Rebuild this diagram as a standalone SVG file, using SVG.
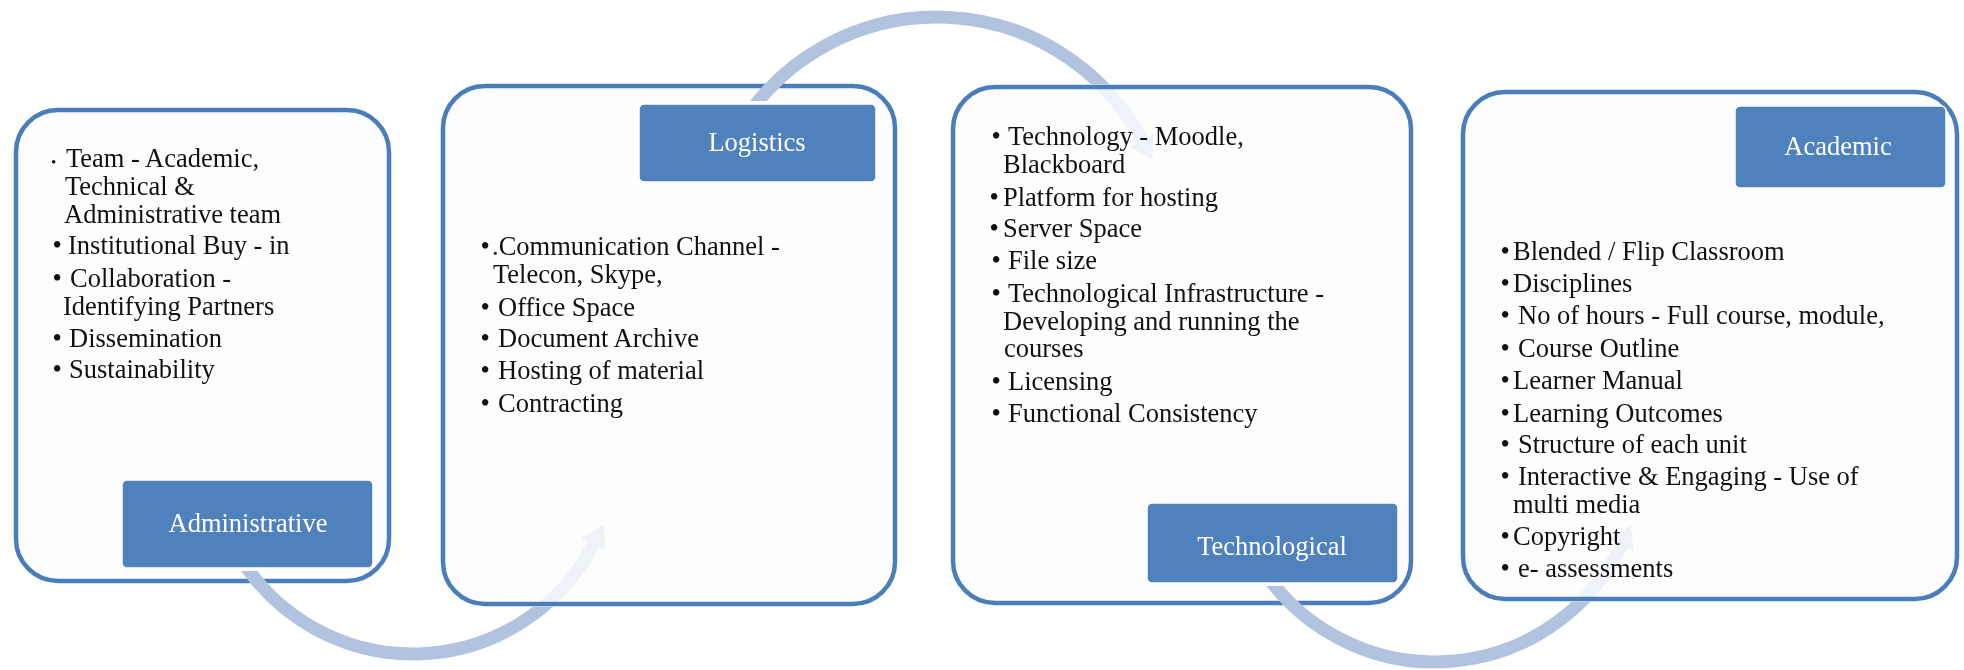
<svg xmlns="http://www.w3.org/2000/svg" width="1964" height="670" viewBox="0 0 1964 670">
<style>
.box{fill:#fdfdfd;stroke:#4a7ebb;stroke-width:4.5}
.lab{fill:#4f81bd;stroke:#ffffff;stroke-width:1.5}
.lt{font-family:"Liberation Serif","Times New Roman",serif;font-size:26.5px;fill:#ffffff;text-anchor:middle}
.t{font-family:"Liberation Serif","Times New Roman",serif;font-size:26.5px;fill:#111111}
.sb{font-size:15px}
.arc{fill:none;stroke:#b1c3df;stroke-width:13}
.arcF{fill:none;stroke:#f1f4fa;stroke-width:13;mix-blend-mode:multiply}
.headF{fill:#f1f4fa;mix-blend-mode:multiply}
</style>
<defs>
<path id="arc1" d="M237.2,552.5 A203,203 0 0 0 593.2,544.4"/>
<path id="arc2" d="M744.7,119.3 A232,232 0 0 1 1141.9,140.2"/>
<path id="arc3" d="M1265.5,573.8 A207,207 0 0 0 1621.4,545.1"/>
<clipPath id="out1"><path clip-rule="evenodd" d="M0,0 H1964 V670 H0 Z M485,83.5 H853 A44.5,44.5 0 0 1 897.5,128 V562 A44.5,44.5 0 0 1 853,606.5 H485 A44.5,44.5 0 0 1 440.5,562 V128 A44.5,44.5 0 0 1 485,83.5 Z M119,477 H376 V571 H119 Z"/></clipPath>
<clipPath id="in1"><rect x="445.5" y="88.5" width="447" height="513" rx="39.5"/></clipPath>
<clipPath id="out2"><path clip-rule="evenodd" d="M0,0 H1964 V670 H0 Z M995,84.5 H1369 A44.5,44.5 0 0 1 1413.5,129 V561 A44.5,44.5 0 0 1 1369,605.5 H995 A44.5,44.5 0 0 1 950.5,561 V129 A44.5,44.5 0 0 1 995,84.5 Z M636,101 H879 V185 H636 Z"/></clipPath>
<clipPath id="in2"><rect x="955.5" y="89.5" width="453" height="511" rx="39.5"/></clipPath>
<clipPath id="out3"><path clip-rule="evenodd" d="M0,0 H1964 V670 H0 Z M1505,89.5 H1915 A44.5,44.5 0 0 1 1959.5,134 V557 A44.5,44.5 0 0 1 1915,601.5 H1505 A44.5,44.5 0 0 1 1460.5,557 V134 A44.5,44.5 0 0 1 1505,89.5 Z M1144,500 H1401 V586 H1144 Z"/></clipPath>
<clipPath id="in3"><rect x="1465.5" y="94.5" width="489" height="502" rx="39.5"/></clipPath>
</defs>
<rect width="1964" height="670" fill="#ffffff"/>

<g id="administrative">
<rect class="box" x="16" y="110" width="373" height="471" rx="42"/>
<rect class="lab" x="122" y="480" width="251" height="88" rx="5"/>
<text class="lt" x="248" y="532">Administrative</text>
<text class="t" y="167"><tspan class="sb" x="51">•</tspan><tspan x="66">Team - Academic,</tspan></text>
<text class="t" x="65" y="195">Technical &amp;</text>
<text class="t" x="64" y="223">Administrative team</text>
<text class="t" y="254"><tspan x="52.5">•</tspan><tspan x="68">Institutional Buy - in</tspan></text>
<text class="t" y="287"><tspan x="52.5">•</tspan><tspan x="70">Collaboration -</tspan></text>
<text class="t" x="63" y="315">Identifying Partners</text>
<text class="t" y="347"><tspan x="52.5">•</tspan><tspan x="69">Dissemination</tspan></text>
<text class="t" y="378"><tspan x="52.5">•</tspan><tspan x="69">Sustainability</tspan></text>
</g>

<g id="logistics">
<rect class="box" x="443" y="86" width="452" height="518" rx="42"/>
<rect class="lab" x="639" y="104" width="237" height="78" rx="5"/>
<text class="lt" x="757" y="151">Logistics</text>
<text class="t" y="255"><tspan x="480.5">•</tspan><tspan x="492">.Communication Channel -</tspan></text>
<text class="t" x="493" y="283">Telecon, Skype,</text>
<text class="t" y="316"><tspan x="480.5">•</tspan><tspan x="498">Office Space</tspan></text>
<text class="t" y="347"><tspan x="480.5">•</tspan><tspan x="498">Document Archive</tspan></text>
<text class="t" y="379"><tspan x="480.5">•</tspan><tspan x="498">Hosting of material</tspan></text>
<text class="t" y="412"><tspan x="480.5">•</tspan><tspan x="498">Contracting</tspan></text>
</g>

<g id="technological">
<rect class="box" x="953" y="87" width="458" height="516" rx="42"/>
<rect class="lab" x="1147" y="503" width="251" height="80" rx="5"/>
<text class="lt" x="1272" y="555">Technological</text>
<text class="t" y="145"><tspan x="991.5">•</tspan><tspan x="1008">Technology - Moodle,</tspan></text>
<text class="t" x="1003" y="173">Blackboard</text>
<text class="t" y="206"><tspan x="989.5">•</tspan><tspan x="1003">Platform for hosting</tspan></text>
<text class="t" y="237"><tspan x="989.5">•</tspan><tspan x="1003">Server Space</tspan></text>
<text class="t" y="269"><tspan x="991.5">•</tspan><tspan x="1008">File size</tspan></text>
<text class="t" y="302"><tspan x="991.5">•</tspan><tspan x="1008">Technological Infrastructure -</tspan></text>
<text class="t" x="1003" y="330">Developing and running the</text>
<text class="t" x="1004" y="357">courses</text>
<text class="t" y="390"><tspan x="991.5">•</tspan><tspan x="1008">Licensing</tspan></text>
<text class="t" y="422"><tspan x="991.5">•</tspan><tspan x="1008">Functional Consistency</tspan></text>
</g>

<g id="academic">
<rect class="box" x="1463" y="92" width="494" height="507" rx="42"/>
<rect class="lab" x="1735" y="106" width="211" height="82" rx="5"/>
<text class="lt" x="1838" y="155">Academic</text>
<text class="t" y="260"><tspan x="1500.5">•</tspan><tspan x="1513">Blended / Flip Classroom</tspan></text>
<text class="t" y="292"><tspan x="1500.5">•</tspan><tspan x="1513">Disciplines</tspan></text>
<text class="t" y="324"><tspan x="1500.5">•</tspan><tspan x="1518">No of hours - Full course, module,</tspan></text>
<text class="t" y="357"><tspan x="1500.5">•</tspan><tspan x="1518">Course Outline</tspan></text>
<text class="t" y="389"><tspan x="1500.5">•</tspan><tspan x="1513">Learner Manual</tspan></text>
<text class="t" y="422"><tspan x="1500.5">•</tspan><tspan x="1513">Learning Outcomes</tspan></text>
<text class="t" y="453"><tspan x="1500.5">•</tspan><tspan x="1518">Structure of each unit</tspan></text>
<text class="t" y="485"><tspan x="1500.5">•</tspan><tspan x="1518">Interactive &amp; Engaging - Use of</tspan></text>
<text class="t" x="1513" y="513">multi media</text>
<text class="t" y="545"><tspan x="1500.5">•</tspan><tspan x="1513">Copyright</tspan></text>
<text class="t" y="577"><tspan x="1500.5">•</tspan><tspan x="1518">e- assessments</tspan></text>
</g>

<g id="connectors">
<use href="#arc1" class="arc" clip-path="url(#out1)"/>
<use href="#arc1" class="arcF" clip-path="url(#in1)"/>
<polygon class="headF" points="603.3,524.9 605.2,550.6 581.2,538.2"/>
<use href="#arc2" class="arc" clip-path="url(#out2)"/>
<use href="#arc2" class="arcF" clip-path="url(#in2)"/>
<polygon class="headF" points="1152.2,159.6 1153.8,133.9 1130,146.5"/>
<use href="#arc3" class="arc" clip-path="url(#out3)"/>
<use href="#arc3" class="arcF" clip-path="url(#in3)"/>
<polygon class="headF" points="1631,525.3 1633.6,551 1609.2,539.2"/>
</g>
</svg>
